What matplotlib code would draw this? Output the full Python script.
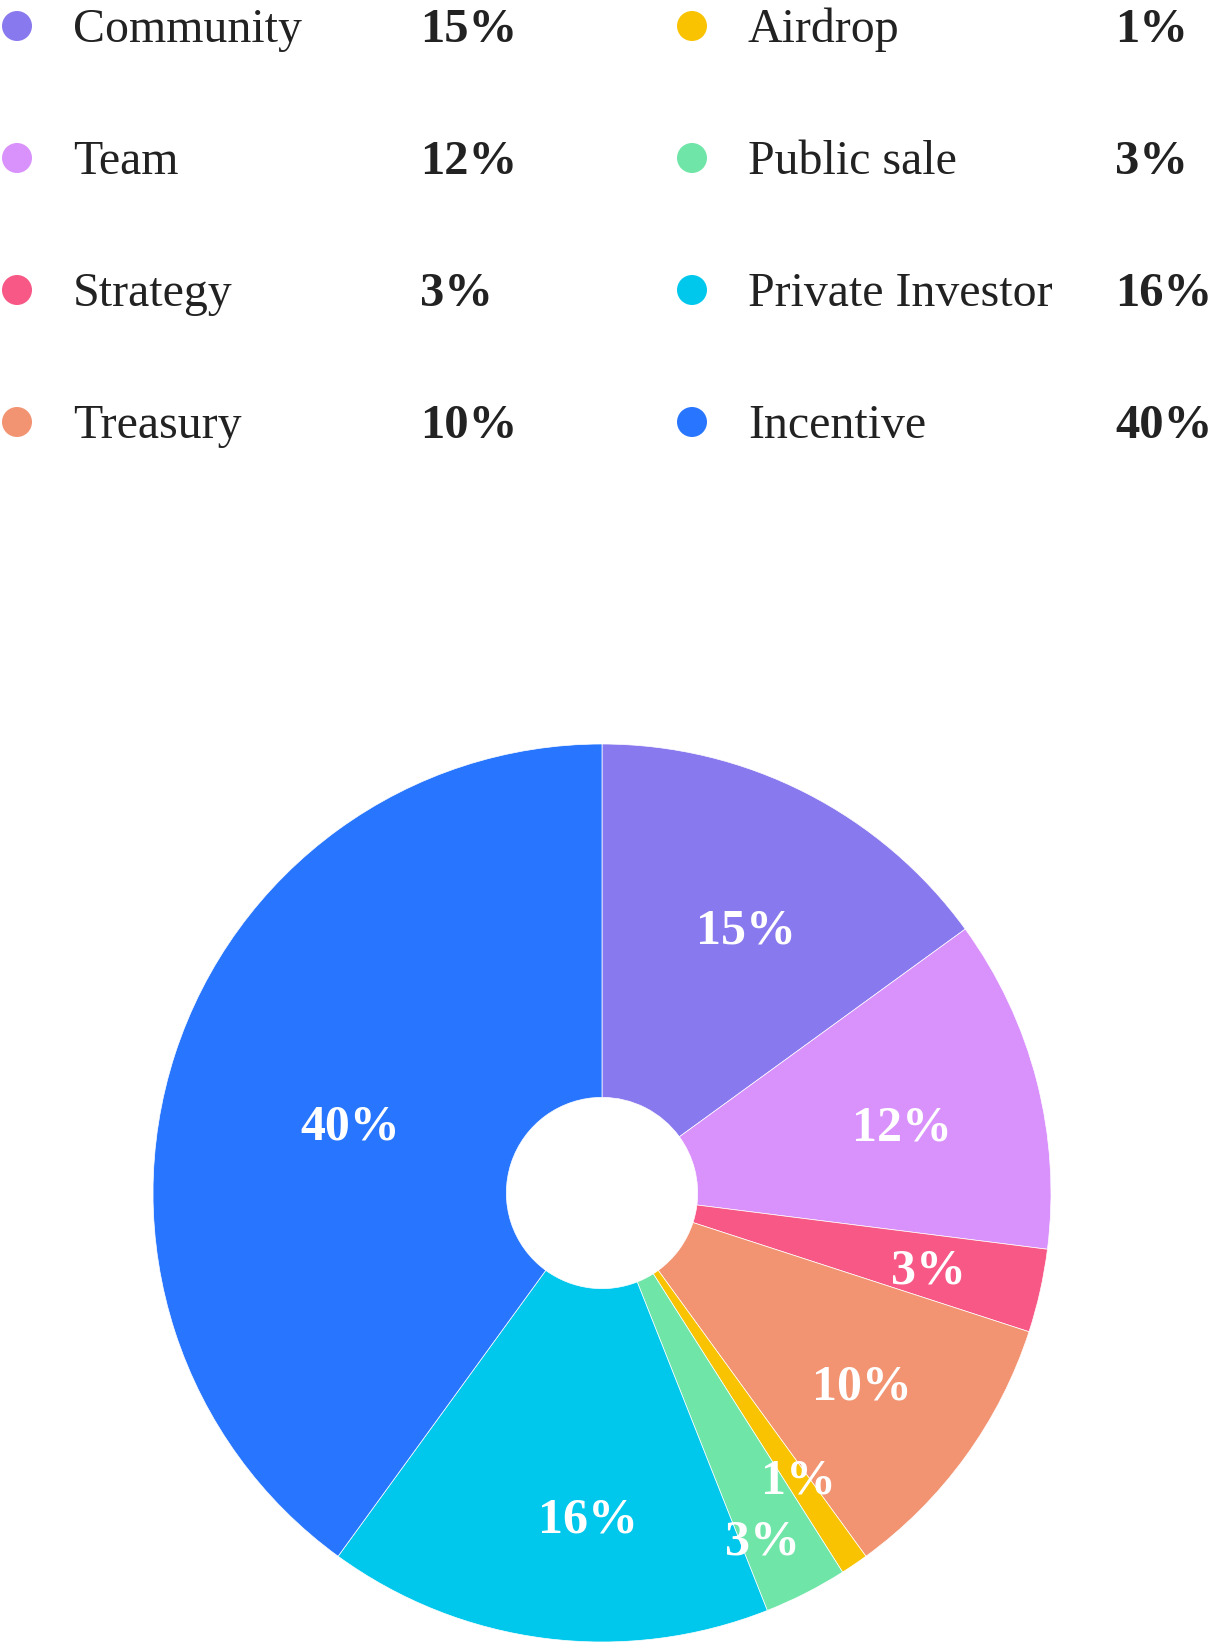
import matplotlib
matplotlib.use('Agg')
import matplotlib.pyplot as plt
from matplotlib.patches import Circle
import numpy as np

plt.rcParams['font.family'] = ['Liberation Serif', 'DejaVu Serif']

# Token allocation data
names = ['Community', 'Team', 'Strategy', 'Treasury',
         'Airdrop', 'Public sale', 'Private Investor', 'Incentive']
shares = [15, 12, 3, 10, 1, 3, 16, 40]
colors = ['#8979EE', '#D991FC', '#F75886', '#F29372',
          '#F9C302', '#6FE5A7', '#00C8EC', '#2876FF']

# label placement inside each slice: radius (fraction) and angle nudge (deg, clockwise)
label_radius = [0.67, 0.685, 0.746, 0.72, 0.772, 0.85, 0.723, 0.581]
label_nudge = [1.5, 1.6, 0.4, 0.4, -0.4, 2.1, -4.8, -2.8]

W, H = 1210, 1644
fig = plt.figure(figsize=(W / 100, H / 100), dpi=100)

# Legend drawn on a pixel-coordinate overlay
lg = fig.add_axes([0, 0, 1, 1])
lg.set_xlim(0, W)
lg.set_ylim(H, 0)
lg.axis('off')

text_color = '#222222'
row_y = [26, 158, 290, 422]
cols = [(17, 73, 420), (692, 748, 1115)]
for i, (name, val, col) in enumerate(zip(names, shares, colors)):
    c = i // 4
    r = i % 4
    dot_x, name_x, pct_x = cols[c]
    y = row_y[r]
    lg.add_patch(Circle((dot_x, y), 15, color=col, lw=0))
    lg.text(name_x, y + 16, name, fontsize=34.5, color=text_color, va='baseline', ha='left')
    lg.text(pct_x, y + 16, f'{val}%', fontsize=35, color=text_color, fontweight='bold',
            va='baseline', ha='left')

# Donut
cx, cy, rad = 602, 1193, 449
ax = fig.add_axes([(cx - rad) / W, (H - cy - rad) / H, 2 * rad / W, 2 * rad / H])
wedges, _ = ax.pie(shares, colors=colors, startangle=90, counterclock=False,
                   radius=1, wedgeprops=dict(width=0.787, edgecolor='white', linewidth=0.5))
ax.set_xlim(-1, 1)
ax.set_ylim(-1, 1)
ax.set_aspect('equal')
ax.axis('off')

for w, val, lr, nd in zip(wedges, shares, label_radius, label_nudge):
    ang = np.deg2rad((w.theta1 + w.theta2) / 2 - nd)
    ax.text(lr * np.cos(ang), lr * np.sin(ang) - 0.007, f'{val}%', color='white',
            fontsize=36, fontweight='bold', ha='center', va='center')

fig.savefig('out.png', dpi=100)
